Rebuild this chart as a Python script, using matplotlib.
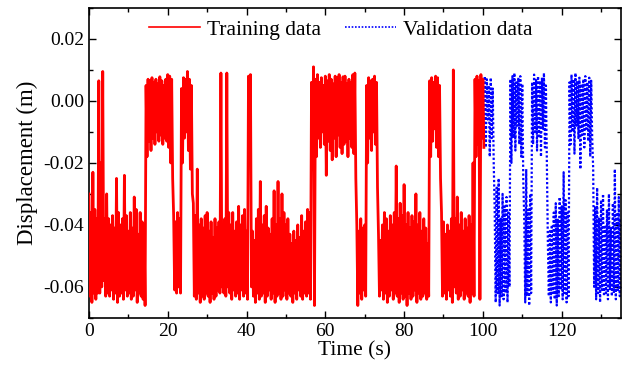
import numpy as np
import matplotlib
matplotlib.use("Agg")
import matplotlib.pyplot as plt
from matplotlib.ticker import MultipleLocator, FormatStrFormatter

plt.rcParams["font.family"] = ["Liberation Serif", "DejaVu Serif"]
plt.rcParams["axes.unicode_minus"] = False

# displacement peaks, in mm, one value every 0.5 s
# training: t = 0 ... 100 s
train_upper_mm = [
    -30, -36, -23, -35, -38, 6.5, -20, 9.5, -38, -30,
    -38, -40, -37, -41, -25, -36, -40, -38, -24, -37,
    -42, -36, -41, -31, -35, -43, -36, -39, -40, 5,
    7, 6.5, 7.5, 6, 7, 5.5, 7.8, 6.5, 5, 7,
    8.5, 8, 7, -37, -39, -36, -38, 4, 7.5, 7,
    9.5, 7, 5, -33, -37, -22, -40, -38, -41, -37,
    -36, -42, -39, -44, -38, -41, -39, 9, -40, -38,
    9, -36, -40, -36, -42, -39, -34, -40, -37, -35,
    -42, 8, 8.5, -42, -45, -38, -35, -26, -40, -37,
    -34, -41, -43, -38, -29, -40, -26, -38, -30, -36,
    -40, -38, -43, -46, -42, -45, -40, -44, -37, -42,
    -39, -35, -36, 6, 11, 7, 8.5, 6, 7.5, 5,
    8, 6.5, 8.5, 7, 5.5, 8, 7.5, 8.5, 6, 7.8,
    8, 5.5, 7, 6, 8.5, 9, -40, -42, -38, -41,
    -40, 5, 7.5, 6.5, 7, 8, 6, -43, -45, -40,
    -36, -38, -42, -37, -40, -36, -21, -38, -33, -37,
    -27, -40, -36, -41, -37, -39, -30, -40, -36, -42,
    -38, -41, -46, 6.5, 7.5, 6, 8, 7.5, 5, -36,
    -39, -43, -40, -42, -38, 10, -38, -31, -40, -36,
    -42, -38, -41, -37, -40, -20, 7, 8, 6.5, 8.5,
    7,
]
train_lower_mm = [
    -63, -65, -62, -64, -62, -62, -60, -58, -63, -62,
    -63, -61, -64, -62, -65, -63, -62, -64, -61, -63,
    -62, -64, -63, -61, -65, -62, -63, -64, -66, -18,
    -13, -16, -12, -14, -10, -13, -11, -14, -12, -13,
    -15, -20, -25, -61, -62, -60, -62, -20, -12, -10,
    -16, -22, -30, -63, -64, -62, -65, -63, -64, -62,
    -63, -65, -62, -64, -63, -61, -62, -60, -62, -63,
    -60, -62, -64, -61, -63, -62, -64, -61, -63, -62,
    -64, -15, -60, -63, -65, -62, -64, -63, -62, -65,
    -63, -61, -64, -62, -65, -63, -62, -64, -63, -61,
    -64, -62, -63, -65, -62, -64, -61, -63, -64, -62,
    -63, -62, -64, -22, -66, -18, -12, -15, -10, -14,
    -24, -13, -16, -19, -12, -18, -11, -15, -17, -14,
    -13, -18, -12, -15, -17, -25, -66, -62, -64, -61,
    -63, -20, -12, -16, -10, -14, -28, -63, -61, -64,
    -62, -65, -63, -61, -64, -62, -63, -65, -62, -64,
    -63, -66, -62, -64, -63, -61, -65, -62, -64, -63,
    -62, -64, -63, -18, -13, -9, -15, -18, -25, -63,
    -62, -64, -61, -63, -65, -60, -62, -64, -63, -61,
    -64, -62, -63, -65, -62, -63, -18, -14, -64, -12,
    -15,
]

# validation: t = 100 ... 135 s
val_upper_mm = [
    6, 8, 7, 5, 7.5, 4,
    -35, -28, -25, -38, -30, -34, -31, -36,
    7, 8, 9, 6, 7.5, 8, 5.5,
    -38, -22, -35, -30,
    6, 8.5, 7, 8, 6.5, 7.5, 9, 5,
    -46, -42, -40, -36, -33, -38, -31, -34, -23, -32, -36,
    6, 8.5, 7, 9, 6.5, 7.5, 5.5, 7, 8, 6, 7.5, 6.5,
    -22, -34, -28, -38, -32, -30, -40, -35, -30, -41, -33, -22, -36, -31, -38,
]
val_lower_mm = [
    -10, -15, -6, -18, -12, -20,
    -65, -62, -66, -63, -64, -62, -65, -60,
    -20, -12, -16, -8, -14, -18, -25,
    -65, -63, -66, -62,
    -14, -10, -16, -12, -18, -9, -15, -20,
    -63, -65, -62, -64, -66, -63, -61, -64, -62, -65, -63,
    -14, -10, -17, -8, -12, -22, -11, -15, -9, -13, -18, -12,
    -60, -64, -62, -65, -61, -63, -62, -64, -61, -63, -62, -64, -61, -63, -62,
]

step = 0.5
t_train = np.arange(len(train_upper_mm)) * step
t_val = 100 + np.arange(len(val_upper_mm)) * step


def zigzag(t, upper, lower):
    # alternate each upper peak with the following lower peak
    x = np.empty(2 * len(t))
    y = np.empty(2 * len(t))
    x[0::2] = t
    x[1::2] = t + step / 2
    y[0::2] = np.array(upper) / 1000
    y[1::2] = np.array(lower) / 1000
    return x, y


fig = plt.figure(figsize=(6.22, 3.78), dpi=100)
ax = fig.add_axes([0.143, 0.159, 0.855, 0.82])

xv, yv = zigzag(t_val, val_upper_mm, val_lower_mm)
ax.plot(xv, yv, color="#0000ff", linestyle=(0, (1, 1)), linewidth=1.6,
        label="Validation data", zorder=2)
xt, yt = zigzag(t_train, train_upper_mm, train_lower_mm)
ax.plot(xt, yt, color="#ff0000", linestyle="-", linewidth=2.0,
        label="Training data", zorder=3)

ax.set_xlim(0, 135)
ax.set_ylim(-0.07, 0.03)
ax.xaxis.set_major_locator(MultipleLocator(20))
ax.xaxis.set_minor_locator(MultipleLocator(10))
ax.yaxis.set_major_locator(MultipleLocator(0.02))
ax.yaxis.set_minor_locator(MultipleLocator(0.01))
ax.yaxis.set_major_formatter(FormatStrFormatter("%.2f"))
ax.tick_params(which="both", direction="in", top=True, right=True, labelsize=14, width=1)
ax.tick_params(which="major", length=5)
ax.tick_params(which="minor", length=3)
for s in ax.spines.values():
    s.set_linewidth(1.2)

ax.set_xlabel("Time (s)", fontsize=15.5, labelpad=1)
ax.set_ylabel("Displacement (m)", fontsize=16.5, labelpad=4)

handles, labels = ax.get_legend_handles_labels()
leg = ax.legend(handles[::-1], labels[::-1], loc="center", bbox_to_anchor=(0.473, 0.929),
                ncol=2, frameon=False, fontsize=15.5, handlelength=2.4, columnspacing=1.1,
                handletextpad=0.3)
for line in leg.get_lines():
    line.set_linewidth(1.2)

fig.savefig("out.png", dpi=100)
